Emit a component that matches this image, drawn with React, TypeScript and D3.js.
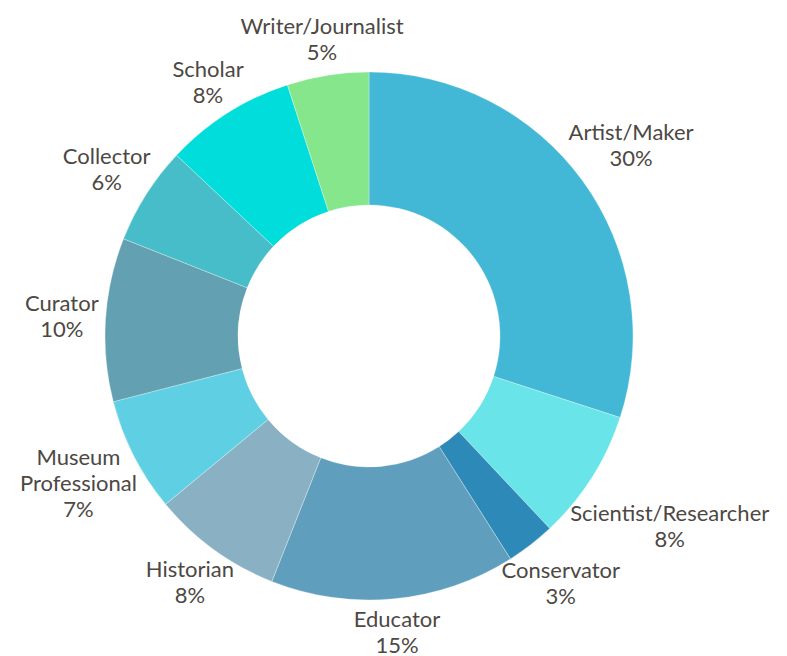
import { useEffect, useRef } from "react";
import * as d3 from "d3";

const width = 787;
const height = 656;
const centerX = 369;
const centerY = 336;
const outerRadius = 264;
const innerRadius = 131;
const labelGap = 7;
const lineHeight = 26;

// Slices run clockwise from 12 o'clock
const categories = [
	"Artist/Maker",
	"Scientist/Researcher",
	"Conservator",
	"Educator",
	"Historian",
	"Museum Professional",
	"Curator",
	"Collector",
	"Scholar",
	"Writer/Journalist",
];
const shares = [30, 8, 3, 15, 8, 7, 10, 6, 8, 5];
const colors = [
	"#42b8d6",
	"#69e4e8",
	"#2d8ab8",
	"#5f9fbd",
	"#8ab0c3",
	"#5fd0e3",
	"#62a0b2",
	"#47bdc9",
	"#00dddb",
	"#85e68b",
];

type Slice = { category: string; value: number; color: string };

export default function App() {
	const ref = useRef<SVGSVGElement>(null);

	useEffect(() => {
		const svg = d3.select(ref.current);
		svg.selectAll("*").remove();

		const data: Slice[] = categories.map((c, i) => ({
			category: c,
			value: shares[i],
			color: colors[i],
		}));

		const pie = d3
			.pie<Slice>()
			.value((d) => d.value)
			.sort(null);
		const arcs = pie(data);
		const arc = d3
			.arc<d3.PieArcDatum<Slice>>()
			.innerRadius(innerRadius)
			.outerRadius(outerRadius);

		const g = svg
			.append("g")
			.attr("transform", `translate(${centerX},${centerY})`);

		g.selectAll("path")
			.data(arcs)
			.join("path")
			.attr("d", arc)
			.attr("fill", (d) => d.data.color)
			.attr("stroke", "#ffffff")
			.attr("stroke-width", 0.6)
			.attr("stroke-opacity", 0.5);

		// Labels sit on the mid-angle ray, pushed out by the text box extent
		g.selectAll("g.label")
			.data(arcs)
			.join("g")
			.attr("class", "label")
			.each(function (d) {
				const lines = [...d.data.category.split(" "), `${d.data.value}%`];
				const text = d3
					.select(this)
					.append("text")
					.attr("text-anchor", "middle")
					.attr("font-family", "Lato, 'Noto Sans', sans-serif")
					.attr("font-size", 22)
					.attr("fill", "#4d4843");
				lines.forEach((line, i) => {
					text
						.append("tspan")
						.attr("x", 0)
						.attr("y", (i - (lines.length - 1) / 2) * lineHeight)
						.attr("dy", "0.33em")
						.text(line);
				});
				const bb = (text.node() as SVGTextElement).getBBox();
				const mid = (d.startAngle + d.endAngle) / 2;
				const sx = Math.sin(mid);
				const sy = -Math.cos(mid);
				const extent = Math.hypot((bb.width / 2) * sx, (bb.height / 2) * sy);
				const r = outerRadius + labelGap + extent;
				d3.select(this).attr("transform", `translate(${r * sx},${r * sy})`);
			});
	}, []);

	return (
		<svg
			ref={ref}
			width={width}
			height={height}
			viewBox={`0 0 ${width} ${height}`}
			style={{ position: "absolute", left: 0, top: 0 }}
		/>
	);
}
